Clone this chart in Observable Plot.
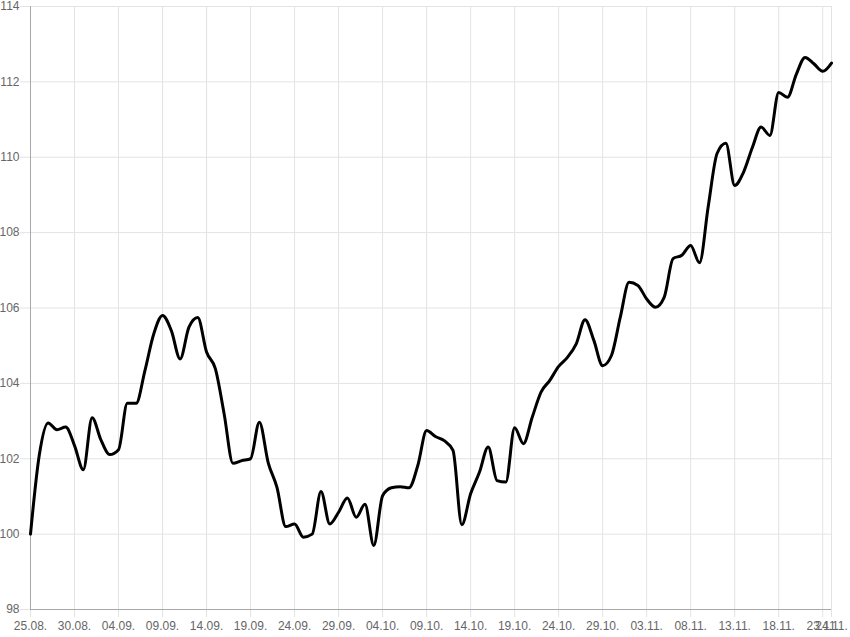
<!DOCTYPE html>
<html>
<head>
<meta charset="utf-8">
<script src="https://cdn.jsdelivr.net/npm/d3@7"></script>
<script src="https://cdn.jsdelivr.net/npm/@observablehq/plot@0.6"></script>
<style>
  html, body { margin: 0; padding: 0; background: #fff; }
  #chart svg { display: block; }
</style>
</head>
<body>
<div id="chart"></div>
<script>
// Data: daily values starting 25.08.
const startDate = "2014-08-25";
const values = [
  100.0, 102.1, 102.95, 102.77, 102.84, 102.35, 101.71, 103.09, 102.5, 102.11,
  102.24, 103.47, 103.47, 104.34, 105.31, 105.8, 105.4, 104.65, 105.49, 105.75,
  104.83, 104.39, 103.19, 101.88, 101.95, 102.0, 102.97, 101.9, 101.24, 100.2,
  100.27, 99.92, 100.0, 101.13, 100.27, 100.58, 100.96, 100.45, 100.79, 99.7,
  101.02, 101.23, 101.26, 101.23, 101.82, 102.75, 102.59, 102.48, 102.22, 100.25,
  101.07, 101.64, 102.31, 101.42, 101.38, 102.82, 102.4, 103.1, 103.77, 104.08,
  104.45, 104.69, 105.05, 105.69, 105.14, 104.47, 104.74, 105.75, 106.68, 106.6,
  106.24, 106.02, 106.29, 107.31, 107.4, 107.66, 107.2, 108.7, 110.1, 110.37,
  109.25, 109.6, 110.25, 110.8, 110.58, 111.72, 111.59, 112.2, 112.65, 112.48,
  112.28, 112.5
];
const xTickLabels = ["25.08.", "30.08.", "04.09.", "09.09.", "14.09.", "19.09.", "24.09.",
  "29.09.", "04.10.", "09.10.", "14.10.", "19.10.", "24.10.", "29.10.", "03.11.",
  "08.11.", "13.11.", "18.11.", "23.11.", "24.11."];
const yTicks = [98, 100, 102, 104, 106, 108, 110, 112, 114];

const start = new Date(startDate + "T00:00:00Z");
const dayMs = 24 * 3600 * 1000;
const data = values.map((v, i) => ({date: new Date(start.getTime() + i * dayMs), value: v}));
const fmt = d3.utcFormat("%d.%m.");
const xTicks = xTickLabels.map(lbl => data.find(d => fmt(d.date) === lbl).date);

const gridColor = "#e3e3e3";
const axisColor = "#a8a8a8";

const chart = Plot.plot({
  width: 850,
  height: 637,
  marginTop: 6,
  marginRight: 19,
  marginBottom: 28,
  marginLeft: 30,
  style: {background: "#fff", fontFamily: "'Liberation Sans', Arial, sans-serif", fontSize: "12px", color: "#666"},
  x: {type: "utc", domain: [data[0].date, data[data.length - 1].date]},
  y: {domain: [98, 114]},
  marks: [
    Plot.gridX(xTicks, {stroke: gridColor, strokeOpacity: 1}),
    Plot.gridY(yTicks, {stroke: gridColor, strokeOpacity: 1}),
    Plot.axisX(xTicks, {tickSize: 8, tickPadding: 4, stroke: gridColor, fill: "#666", tickFormat: fmt, label: null}),
    Plot.axisY(yTicks, {tickSize: 10, tickPadding: 1, stroke: gridColor, fill: "#666", label: null}),
    Plot.ruleX([data[0].date], {stroke: axisColor}),
    Plot.ruleY([98], {stroke: axisColor}),
    Plot.line(data, {x: "date", y: "value", stroke: "#000", strokeWidth: 3, curve: "monotone-x"})
  ]
});
document.getElementById("chart").append(chart);
</script>
</body>
</html>
